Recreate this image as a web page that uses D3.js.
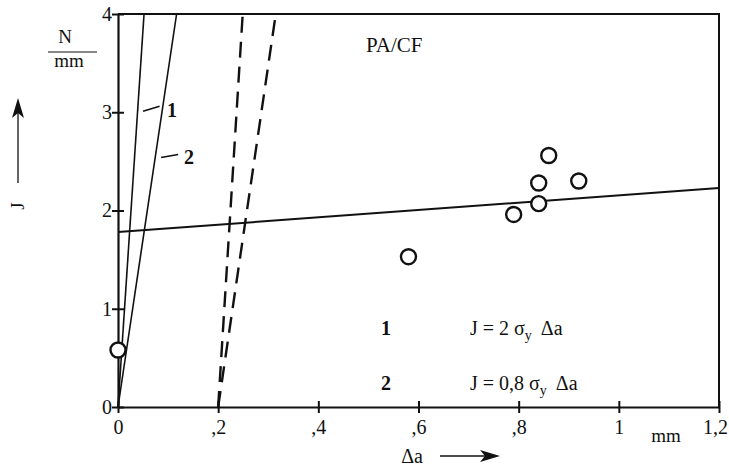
<!DOCTYPE html>
<html>
<head>
<meta charset="utf-8">
<script src="https://cdn.jsdelivr.net/npm/d3@7"></script>
<style>
  html, body { margin: 0; padding: 0; background: #fff; }
  svg { display: block; font-family: "Liberation Serif", "DejaVu Serif", serif; }
  svg text { font-family: "Liberation Serif", "DejaVu Serif", serif; }
</style>
</head>
<body>
<div id="chart"></div>
<script>
// Achsen
var xTicks = [0, 0.2, 0.4, 0.6, 0.8, 1, 1.2];
var xTickLabels = ['0', ',2', ',4', ',6', ',8', '1', '1,2'];
var yTicks = [0, 1, 2, 3, 4];
var yTickLabels = ['0', '1', '2', '3', '4'];

// Messpunkte (Δa in mm, J in N/mm)
var pointDa = [0, 0.58, 0.79, 0.84, 0.84, 0.86, 0.92];
var pointJ = [0.58, 1.53, 1.96, 2.07, 2.28, 2.56, 2.30];

// Ausgleichsgerade
var fitDa = [0, 1.2];
var fitJ = [1.78, 2.23];

// Blunting-Linien (1: J = 2 σy Δa, 2: J = 0,8 σy Δa) und die parallelen Ausschlusslinien
var bluntJ = [0, 4];
var blunt1Da = [0, 0.052];
var blunt2Da = [0, 0.117];
var offset1Da = [0.2, 0.249];
var offset2Da = [0.2, 0.315];

var W = 729, H = 470;
var x = d3.scaleLinear().domain([0, 1.2]).range([118, 719]);
var y = d3.scaleLinear().domain([0, 4]).range([407, 14]);

var svg = d3.select('#chart').append('svg')
    .attr('width', W).attr('height', H)
    .attr('viewBox', '0 0 ' + W + ' ' + H);

function seg(da, j) {
    return da.map(function (d, i) { return [d, j[i]]; });
}
var line = d3.line().x(function (d) { return x(d[0]); }).y(function (d) { return y(d[1]); });

// Rahmen oben / rechts
svg.append('path')
    .attr('d', 'M' + x(0) + ',' + y(4) + 'H' + x(1.2) + 'V' + y(0))
    .attr('fill', 'none').attr('stroke', '#111').attr('stroke-width', 2);

// x-Achse
var xAxis = svg.append('g').attr('transform', 'translate(0,' + y(0) + ')')
    .call(d3.axisBottom(x).tickValues(xTicks).tickSize(0).tickFormat(function (d, i) { return xTickLabels[i]; }));
xAxis.select('.domain').attr('stroke', '#111').attr('stroke-width', 2.2);
xAxis.selectAll('.tick line').attr('y1', -6).attr('y2', 6).attr('stroke', '#111').attr('stroke-width', 2);
xAxis.selectAll('.tick text').attr('y', 13).attr('dy', '0.71em')
    .attr('font-size', 20).attr('fill', '#111')
    .attr('dx', function (d, i) { return i === xTicks.length - 1 ? -4 : 0; });

// y-Achse
var yAxis = svg.append('g').attr('transform', 'translate(' + x(0) + ',0)')
    .call(d3.axisLeft(y).tickValues(yTicks).tickSize(0).tickFormat(function (d, i) { return yTickLabels[i]; }));
yAxis.select('.domain').attr('stroke', '#111').attr('stroke-width', 2.2);
yAxis.selectAll('.tick line').attr('x1', -6).attr('x2', 6).attr('stroke', '#111').attr('stroke-width', 2);
yAxis.selectAll('.tick text').attr('x', -6)
    .attr('font-size', 20).attr('fill', '#111');

// Blunting-Linien
[blunt1Da, blunt2Da].forEach(function (da) {
    svg.append('path').attr('d', line(seg(da, bluntJ)))
        .attr('fill', 'none').attr('stroke', '#111').attr('stroke-width', 1.6);
});
[offset1Da, offset2Da].forEach(function (da) {
    svg.append('path').attr('d', line(seg(da, bluntJ)))
        .attr('fill', 'none').attr('stroke', '#111').attr('stroke-width', 2.4)
        .attr('stroke-dasharray', '16,9');
});

// Ausgleichsgerade
svg.append('path').attr('d', line(seg(fitDa, fitJ)))
    .attr('fill', 'none').attr('stroke', '#111').attr('stroke-width', 2);

// Messpunkte
svg.selectAll('circle.pt')
    .data(d3.range(pointDa.length))
    .join('circle')
    .attr('class', 'pt')
    .attr('cx', function (i) { return x(pointDa[i]); })
    .attr('cy', function (i) { return y(pointJ[i]); })
    .attr('r', 7.5)
    .attr('fill', '#fff').attr('stroke', '#111').attr('stroke-width', 2.4);

// Linienbezeichnungen 1 und 2
svg.append('line')
    .attr('x1', x(0.05)).attr('y1', y(3.01)).attr('x2', x(0.083)).attr('y2', y(3.06))
    .attr('stroke', '#111').attr('stroke-width', 1.6);
svg.append('text').attr('x', x(0.098)).attr('y', y(2.95))
    .attr('font-size', 20).attr('font-weight', 'bold').attr('fill', '#111').text('1');
svg.append('line')
    .attr('x1', x(0.086)).attr('y1', y(2.54)).attr('x2', x(0.12)).attr('y2', y(2.57))
    .attr('stroke', '#111').attr('stroke-width', 1.6);
svg.append('text').attr('x', x(0.132)).attr('y', y(2.47))
    .attr('font-size', 20).attr('font-weight', 'bold').attr('fill', '#111').text('2');

// Materialbezeichnung
svg.append('text').attr('x', 366).attr('y', 52)
    .attr('font-size', 21).attr('fill', '#111').text('PA/CF');

// Legende
function formula(yPos, factor) {
    svg.append('text').attr('x', 381).attr('y', yPos)
        .attr('font-size', 20).attr('font-weight', 'bold').attr('fill', '#111').text(factor[0]);
    var t = svg.append('text').attr('x', 470).attr('y', yPos)
        .attr('font-size', 20).attr('fill', '#111');
    t.append('tspan').text('J = ' + factor[1] + ' σ');
    t.append('tspan').attr('dy', 5).attr('font-size', 14).text('y');
    t.append('tspan').attr('dy', -5).attr('dx', 9).text('Δa');
}
formula(335, ['1', '2']);
formula(390, ['2', '0,8']);

// Einheit y-Achse
svg.append('text').attr('x', 65).attr('y', 43).attr('text-anchor', 'middle')
    .attr('font-size', 19).attr('fill', '#111').text('N');
svg.append('line').attr('x1', 48).attr('x2', 97).attr('y1', 52).attr('y2', 52)
    .attr('stroke', '#111').attr('stroke-width', 1.2);
svg.append('text').attr('x', 69).attr('y', 67).attr('text-anchor', 'middle')
    .attr('font-size', 19).attr('fill', '#111').text('mm');

// Einheit x-Achse
svg.append('text').attr('x', 666).attr('y', 442).attr('text-anchor', 'middle')
    .attr('font-size', 19).attr('fill', '#111').text('mm');

// Achsentitel mit Pfeilen
svg.append('text').attr('transform', 'translate(24,206) rotate(-90)')
    .attr('text-anchor', 'middle').attr('font-size', 19).attr('fill', '#111').text('J');
svg.append('line').attr('x1', 18).attr('x2', 18).attr('y1', 183).attr('y2', 110)
    .attr('stroke', '#111').attr('stroke-width', 1.3);
svg.append('path').attr('d', 'M18,98 L12,118 L18,113 L24,118 Z').attr('fill', '#111');

svg.append('text').attr('x', 412).attr('y', 463).attr('text-anchor', 'middle')
    .attr('font-size', 20).attr('fill', '#111').text('Δa');
svg.append('line').attr('x1', 440).attr('x2', 488).attr('y1', 456).attr('y2', 456)
    .attr('stroke', '#111').attr('stroke-width', 1.3);
svg.append('path').attr('d', 'M500,456 L480,450 L485,456 L480,462 Z').attr('fill', '#111');
</script>
</body>
</html>
